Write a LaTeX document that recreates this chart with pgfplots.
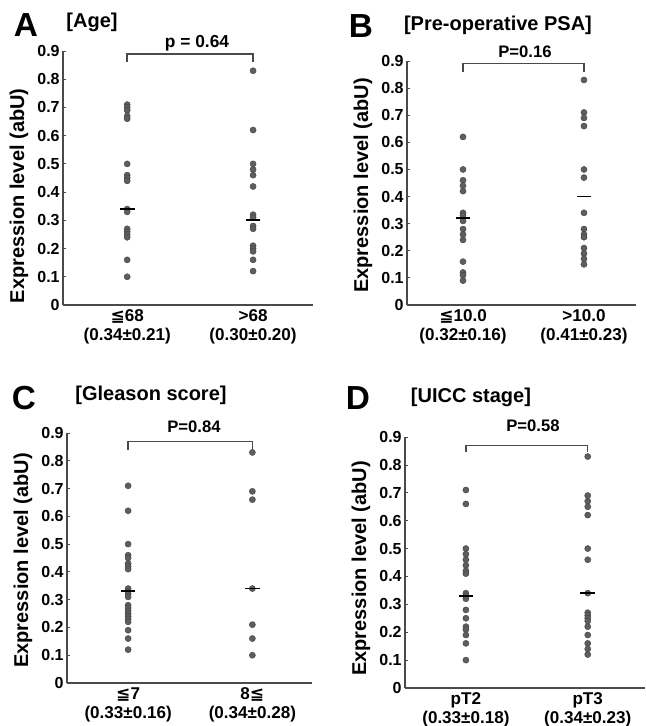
\documentclass[border=0pt]{standalone}
\usepackage{fontspec}
\setmainfont{Liberation Sans}
\newfontfamily\sym{DejaVu Sans}
\usepackage{pgfplots}
\pgfplotsset{compat=1.18}

\definecolor{dotgray}{HTML}{5E5E5E}
\definecolor{axisgray}{HTML}{4A4A4A}

\pgfplotsset{
  dotpanel/.style={
    scale only axis, anchor=south west, clip=false,
    ymin=0, ymax=0.9,
    ytick={0,0.1,0.2,0.3,0.4,0.5,0.6,0.7,0.8,0.9},
    yticklabels={0,0.1,0.2,0.3,0.4,0.5,0.6,0.7,0.8,0.9},
    axis x line=bottom, axis y line=left,
    axis line style={-, axisgray, line width=0.9pt},
    xtick={1,2}, major x tick style={draw=none},
    tick align=inside, major tick length=2pt,
    ytick style={axisgray, line width=0.6pt},
    yticklabel style={font=\bfseries\fontsize{12}{13}\selectfont, xshift=1pt},
    xticklabel style={font=\bfseries\fontsize{12.8}{14.5}\selectfont, align=center},
    ylabel={Expression level (abU)},
    ylabel style={font=\bfseries\fontsize{15}{16}\selectfont},
  },
  dots/.style={only marks, mark=*, mark size=2.3pt,
    mark options={fill=dotgray, draw=dotgray!70!black, line width=0.3pt}},
  meanline/.style={only marks, mark=-, mark size=5.5pt,
    mark options={draw=black, line width=1.4pt}},
}

\begin{document}
\begin{tikzpicture}
\useasboundingbox (0,0) rectangle (484.5pt,544.5pt);

% A: Age
\begin{axis}[dotpanel, at={(47.25pt,315.75pt)}, width=187.5pt, height=190.5pt,
  xmin=0.49, xmax=2.476, ylabel style={at={(ticklabel cs:0.43)}},
  xticklabels={{{\sym ≦}68\\(0.34±0.21)},{>68\\(0.30±0.20)}}]
\addplot[dots] coordinates {(1,0.71) (1,0.70) (1,0.69) (1,0.67) (1,0.66) (1,0.50) (1,0.46) (1,0.45) (1,0.44) (1,0.34) (1,0.33) (1,0.27) (1,0.26) (1,0.25) (1,0.24) (1,0.16) (1,0.10)};
\addplot[dots] coordinates {(2,0.83) (2,0.62) (2,0.50) (2,0.48) (2,0.46) (2,0.42) (2,0.32) (2,0.31) (2,0.28) (2,0.27) (2,0.21) (2,0.20) (2,0.19) (2,0.16) (2,0.12)};
\addplot[meanline] coordinates {(1,0.34) (2,0.30)};
\draw[axisgray, line width=1.1pt] (axis cs:1,0.86) |- (axis cs:2,0.89) -- (axis cs:2,0.86);
\end{axis}

% B: Pre-operative PSA
\begin{axis}[dotpanel, at={(305.25pt,315.75pt)}, width=171.75pt, height=183pt,
  xmin=0.537, xmax=2.43, ylabel style={at={(ticklabel cs:0.49)}},
  xticklabels={{{\sym ≦}10.0\\(0.32±0.16)},{>10.0\\(0.41±0.23)}}]
\addplot[dots] coordinates {(1,0.62) (1,0.50) (1,0.46) (1,0.44) (1,0.42) (1,0.34) (1,0.33) (1,0.31) (1,0.28) (1,0.26) (1,0.24) (1,0.16) (1,0.12) (1,0.11) (1,0.09)};
\addplot[dots] coordinates {(2,0.83) (2,0.71) (2,0.69) (2,0.66) (2,0.50) (2,0.47) (2,0.34) (2,0.28) (2,0.26) (2,0.25) (2,0.21) (2,0.19) (2,0.17) (2,0.15)};
\addplot[meanline] coordinates {(1,0.32) (2,0.40)};
\draw[axisgray, line width=1.1pt] (axis cs:1,0.86) |- (axis cs:2,0.89) -- (axis cs:2,0.86);
\end{axis}

% C: Gleason score
\begin{axis}[dotpanel, at={(50.25pt,32.25pt)}, width=183.75pt, height=187.5pt,
  xmin=0.508, xmax=2.48, ylabel style={at={(ticklabel cs:0.49)}},
  xticklabels={{{\sym ≦}7\\(0.33±0.16)},{8{\sym ≦}\\(0.34±0.28)}}]
\addplot[dots] coordinates {(1,0.71) (1,0.62) (1,0.50) (1,0.46) (1,0.45) (1,0.43) (1,0.42) (1,0.41) (1,0.34) (1,0.33) (1,0.32) (1,0.31) (1,0.28) (1,0.27) (1,0.26) (1,0.25) (1,0.24) (1,0.23) (1,0.22) (1,0.19) (1,0.16) (1,0.12)};
\addplot[dots] coordinates {(2,0.83) (2,0.69) (2,0.66) (2,0.34) (2,0.21) (2,0.16) (2,0.10)};
\addplot[meanline] coordinates {(1,0.33) (2,0.34)};
\draw[axisgray, line width=1.1pt] (axis cs:1,0.84) |- (axis cs:2,0.87) -- (axis cs:2,0.84);
\end{axis}

% D: UICC stage
\begin{axis}[dotpanel, at={(303.75pt,28.5pt)}, width=180pt, height=188.25pt,
  xmin=0.5, xmax=2.47, ylabel style={at={(ticklabel cs:0.476)}},
  xticklabels={{pT2\\(0.33±0.18)},{pT3\\(0.34±0.23)}}]
\addplot[dots] coordinates {(1,0.71) (1,0.66) (1,0.50) (1,0.48) (1,0.46) (1,0.44) (1,0.42) (1,0.41) (1,0.34) (1,0.33) (1,0.32) (1,0.28) (1,0.25) (1,0.22) (1,0.21) (1,0.19) (1,0.16) (1,0.10)};
\addplot[dots] coordinates {(2,0.83) (2,0.69) (2,0.67) (2,0.65) (2,0.62) (2,0.50) (2,0.46) (2,0.34) (2,0.27) (2,0.26) (2,0.25) (2,0.24) (2,0.22) (2,0.19) (2,0.16) (2,0.14) (2,0.12)};
\addplot[meanline] coordinates {(1,0.33) (2,0.34)};
\draw[axisgray, line width=1.1pt] (axis cs:1,0.845) |- (axis cs:2,0.87) -- (axis cs:2,0.845);
\end{axis}

% panel letters, titles and p values (positions in px*0.75 from top-left)
\node[font=\bfseries\fontsize{25}{26}\selectfont] at (19.5pt,525.75pt) {A};
\node[font=\bfseries\fontsize{15}{16}\selectfont] at (69pt,528pt) {[Age]};
\node[font=\bfseries\fontsize{13}{14}\selectfont] at (147.75pt,512.25pt) {p = 0.64};

\node[font=\bfseries\fontsize{25}{26}\selectfont] at (270.75pt,525pt) {B};
\node[font=\bfseries\fontsize{15}{16}\selectfont] at (373.5pt,525.75pt) {[Pre-operative PSA]};
\node[font=\bfseries\fontsize{12.5}{13}\selectfont] at (393.75pt,505.5pt) {P=0.16};

\node[font=\bfseries\fontsize{25}{26}\selectfont] at (18pt,246pt) {C};
\node[font=\bfseries\fontsize{15}{16}\selectfont] at (113.25pt,248.25pt) {[Gleason score]};
\node[font=\bfseries\fontsize{12.5}{13}\selectfont] at (145.5pt,224.25pt) {P=0.84};

\node[font=\bfseries\fontsize{25}{26}\selectfont] at (268.5pt,246pt) {D};
\node[font=\bfseries\fontsize{15}{16}\selectfont] at (353.25pt,246.75pt) {[UICC stage]};
\node[font=\bfseries\fontsize{12.5}{13}\selectfont] at (399.75pt,225pt) {P=0.58};
\end{tikzpicture}
\end{document}
